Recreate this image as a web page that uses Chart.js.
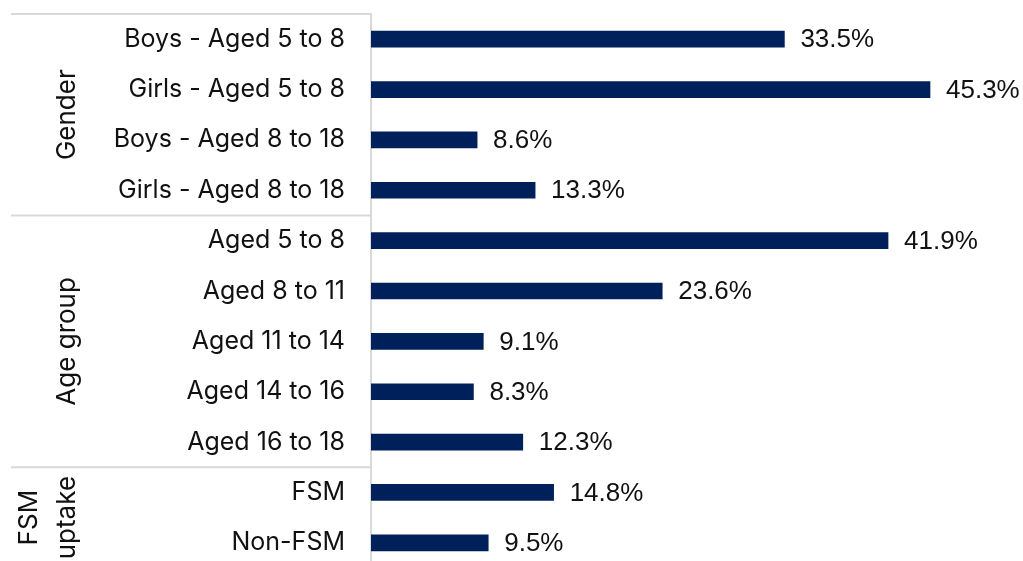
<!DOCTYPE html>
<html>
<head>
<meta charset="utf-8">
<script src="https://cdn.jsdelivr.net/npm/chart.js@4"></script>
<style>
  html, body { margin: 0; padding: 0; background: #fff; overflow: hidden; }
  #wrap { position: relative; width: 1023px; height: 575px; }
</style>
</head>
<body>
<div id="wrap"><canvas id="chart"></canvas></div>
<script>
// Categories and values (percent)
const categories = [
    'Boys - Aged 5 to 8', 'Girls - Aged 5 to 8', 'Boys - Aged 8 to 18', 'Girls - Aged 8 to 18',
    'Aged 5 to 8', 'Aged 8 to 11', 'Aged 11 to 14', 'Aged 14 to 16', 'Aged 16 to 18',
    'FSM', 'Non-FSM'
];
const values = [33.5, 45.3, 8.6, 13.3, 41.9, 23.6, 9.1, 8.3, 12.3, 14.8, 9.5];

// Group labels and how many categories each covers
const groupNames = [['Gender'], ['Age group'], ['FSM', 'uptake']];
const groupSizes = [4, 5, 2];

const labelFont = 'Inter, "Open Sans", sans-serif';
const lineColor = '#d9d9d9';

// Draws value labels, group labels and group separators
const groupPlugin = {
    id: 'groups',
    afterDatasetsDraw(chart) {
        const ctx = chart.ctx;
        const meta = chart.getDatasetMeta(0);
        ctx.save();
        ctx.font = '26px "Liberation Sans", Arial, sans-serif';
        ctx.fillStyle = '#111';
        ctx.textBaseline = 'middle';
        ctx.textAlign = 'left';
        meta.data.forEach((bar, i) => {
            ctx.fillText(values[i].toFixed(1) + '%', bar.x + 16, bar.y + 1);
        });
        ctx.restore();
    },
    afterDraw(chart) {
        const ctx = chart.ctx;
        const yScale = chart.scales.y;
        const area = chart.chartArea;
        const left = 11;
        ctx.save();
        ctx.strokeStyle = lineColor;
        ctx.lineWidth = 2;

        // top border
        ctx.beginPath();
        ctx.moveTo(left, area.top);
        ctx.lineTo(area.left, area.top);
        ctx.stroke();

        let start = 0;
        groupSizes.forEach((size, g) => {
            const end = start + size;
            const topY = start === 0 ? area.top
                : (yScale.getPixelForValue(start - 1) + yScale.getPixelForValue(start)) / 2;
            const botY = end >= categories.length ? area.bottom
                : (yScale.getPixelForValue(end - 1) + yScale.getPixelForValue(end)) / 2;

            if (end < categories.length) {
                ctx.beginPath();
                ctx.moveTo(left, botY);
                ctx.lineTo(area.left, botY);
                ctx.stroke();
            }

            // rotated group label
            const lines = groupNames[g];
            const cy = (topY + botY) / 2;
            ctx.fillStyle = '#111';
            ctx.font = '26px ' + labelFont;
            ctx.textAlign = 'center';
            ctx.textBaseline = 'middle';
            lines.forEach((txt, k) => {
                const cx = 67 - (lines.length - 1 - k) * 38;
                ctx.save();
                ctx.translate(cx, cy);
                ctx.rotate(-Math.PI / 2);
                ctx.fillText(txt, 0, 0);
                ctx.restore();
            });
            start = end;
        });
        ctx.restore();
    }
};

new Chart(document.getElementById('chart'), {
    type: 'bar',
    data: {
        labels: categories,
        datasets: [{
            data: values,
            backgroundColor: '#00205b',
            barThickness: 16
        }]
    },
    options: {
        indexAxis: 'y',
        responsive: true,
        maintainAspectRatio: false,
        animation: false,
        layout: {
            padding: { top: 14, right: 35, bottom: 7, left: 0 }
        },
        plugins: {
            legend: { display: false },
            tooltip: { enabled: false }
        },
        scales: {
            x: {
                display: false,
                min: 0,
                max: 50
            },
            y: {
                afterFit(scale) {
                    scale.width = 371;
                    scale.paddingTop = 0;
                    scale.paddingBottom = 0;
                },
                grid: { display: false, drawTicks: false },
                border: { display: true, color: lineColor, width: 2 },
                ticks: {
                    color: '#111',
                    padding: 26,
                    font: { family: labelFont, size: 25 }
                }
            }
        }
    },
    plugins: [groupPlugin]
});
</script>
</body>
</html>
